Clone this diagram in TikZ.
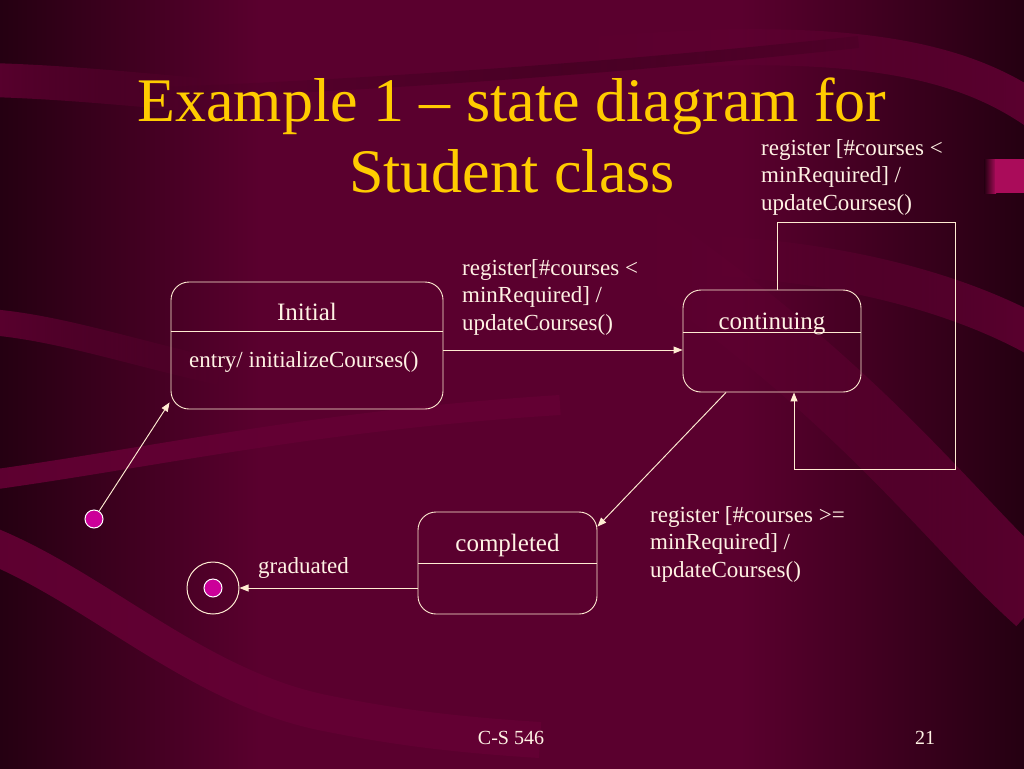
\documentclass[tikz,border=0pt]{standalone}
\usepackage{fontspec}
\setmainfont{Liberation Serif}
\usetikzlibrary{arrows.meta,calc,fadings}
\definecolor{bgdark}{RGB}{36,0,17}
\definecolor{bgmid}{RGB}{90,0,46}
\definecolor{bandc}{RGB}{100,0,52}
\definecolor{banddk}{RGB}{48,0,24}
\definecolor{ttl}{RGB}{255,204,0}
\definecolor{ln}{RGB}{255,236,210}
\definecolor{txt}{RGB}{255,242,228}
\definecolor{dotc}{RGB}{204,0,153}
\definecolor{tabc}{RGB}{170,12,90}
\begin{document}
\begin{tikzpicture}[x=1pt,y=-1pt,
  every node/.style={inner sep=0pt},
  state/.style={rectangle,draw=ln,line width=0.9pt,rounded corners=18pt},
  conn/.style={draw=ln,line width=0.95pt},
  arr/.style={conn,-{Triangle[length=9pt,width=7pt]}},
  lbl/.style={text=txt,font=\fontsize{23}{27.5}\selectfont,align=left},
  sname/.style={text=txt,font=\fontsize{25}{30}\selectfont},
  pdot/.style={circle,fill=dotc,draw=white,line width=1pt,minimum size=18pt},
  bandl/.style={draw=bandc,line cap=butt,opacity=0.9},
  banddark/.style={draw=banddk,line cap=butt,opacity=0.7}]
\useasboundingbox (0,0) rectangle (1024,768);
% background
\shade[left color=bgdark,right color=bgmid] (-5,-5) rectangle (260,773);
\fill[bgmid] (259,-5) rectangle (741,773);
\shade[left color=bgmid,right color=bgdark] (740,-5) rectangle (1029,773);
% bands
\draw[bandl,line width=34pt,path fading=east] (-10,80) .. controls (60,82) and (120,88) .. (200,95);
\draw[banddark,line width=12pt,path fading=west] (140,94) .. controls (350,86) and (600,70) .. (860,42);
\draw[bandl,line width=36pt,path fading=west] (560,58) .. controls (850,30) and (960,60) .. (1034,110);
\draw[bandl,line width=26pt,path fading=east] (-10,322) .. controls (60,328) and (130,352) .. (220,372);
\draw[bandl,line width=20pt] (-10,480) .. controls (150,458) and (320,420) .. (560,405);
\draw[bandl,line width=36pt] (-10,545) .. controls (100,590) and (200,690) .. (330,714) .. controls (400,728) and (460,735) .. (540,740);
\draw[bandl,line width=40pt,path fading=west] (700,255) .. controls (850,262) and (960,295) .. (1034,335);
\draw[bandl,line width=70pt,path fading=west] (640,240) .. controls (870,400) and (950,520) .. (1040,600);
% side tab
\shade[left color=bgdark,right color=tabc] (984,159) rectangle (996,193);
\fill[tabc] (995,159) rectangle (1029,193);
% title
\node[text=ttl,font=\fontsize{62}{71}\selectfont,align=center,anchor=base] (title) at (512,192) {Example 1 – state diagram for\\Student class};
% states
\node[state,minimum width=272pt,minimum height=127pt] (init) at (307,345.5) {};
\node[state,minimum width=178pt,minimum height=102pt] (cont) at (772,341) {};
\node[state,minimum width=179pt,minimum height=102pt] (comp) at (507.5,563) {};
\coordinate (dI) at (0,331);
\coordinate (dC) at (0,332);
\coordinate (dP) at (0,563);
\draw[conn] (init.west |- dI) -- (init.east |- dI);
\draw[conn] (cont.west |- dC) -- (cont.east |- dC);
\draw[conn] (comp.west |- dP) -- (comp.east |- dP);
\node[sname,anchor=base] (initT) at (307,320) {Initial};
\node[lbl,anchor=base west] (initE) at (189,367) {entry/ initializeCourses()};
\node[sname,anchor=base] (contT) at (772,329) {continuing};
\node[sname,anchor=base] (compT) at (507.5,551) {completed};
% pseudostates
\node[pdot] (start) at (94,519) {};
\node[circle,draw=ln,line width=1pt,minimum size=52pt] (fin) at (213,588) {};
\node[pdot] (finDot) at (213,588) {};
% connectors
\coordinate (yA) at (0,350);
\draw[arr] (start) -- ([shift={(-1,-7)}]init.south west);
\draw[arr] (init.east |- yA) -- (cont.west |- yA);
\draw[arr] ([shift={(5,0)}]cont.north) |- (955,222) |- (794,469) -- ([shift={(22,0)}]cont.south);
\draw[arr] ([shift={(-46,0)}]cont.south) -- ([shift={(0,15)}]comp.north east);
\draw[arr] (comp.west |- fin) -- (fin.east);
% labels
\node[lbl,anchor=base west] (l1) at (761,210) {register [\#courses <\\minRequired] /\\updateCourses()};
\node[lbl,anchor=base west] (l2) at (462,330) {register[\#courses <\\minRequired] /\\updateCourses()};
\node[lbl,anchor=base west] (l3) at (650,577) {register [\#courses >=\\minRequired] /\\updateCourses()};
\node[lbl,anchor=base west] (l4) at (258,573) {graduated};
% footer
\node[text=txt,font=\fontsize{20}{24}\selectfont,anchor=base] (foot) at (511,744) {C-S 546};
\node[text=txt,font=\fontsize{20}{24}\selectfont,anchor=base] (page) at (925,744) {21};
\end{tikzpicture}
\end{document}
